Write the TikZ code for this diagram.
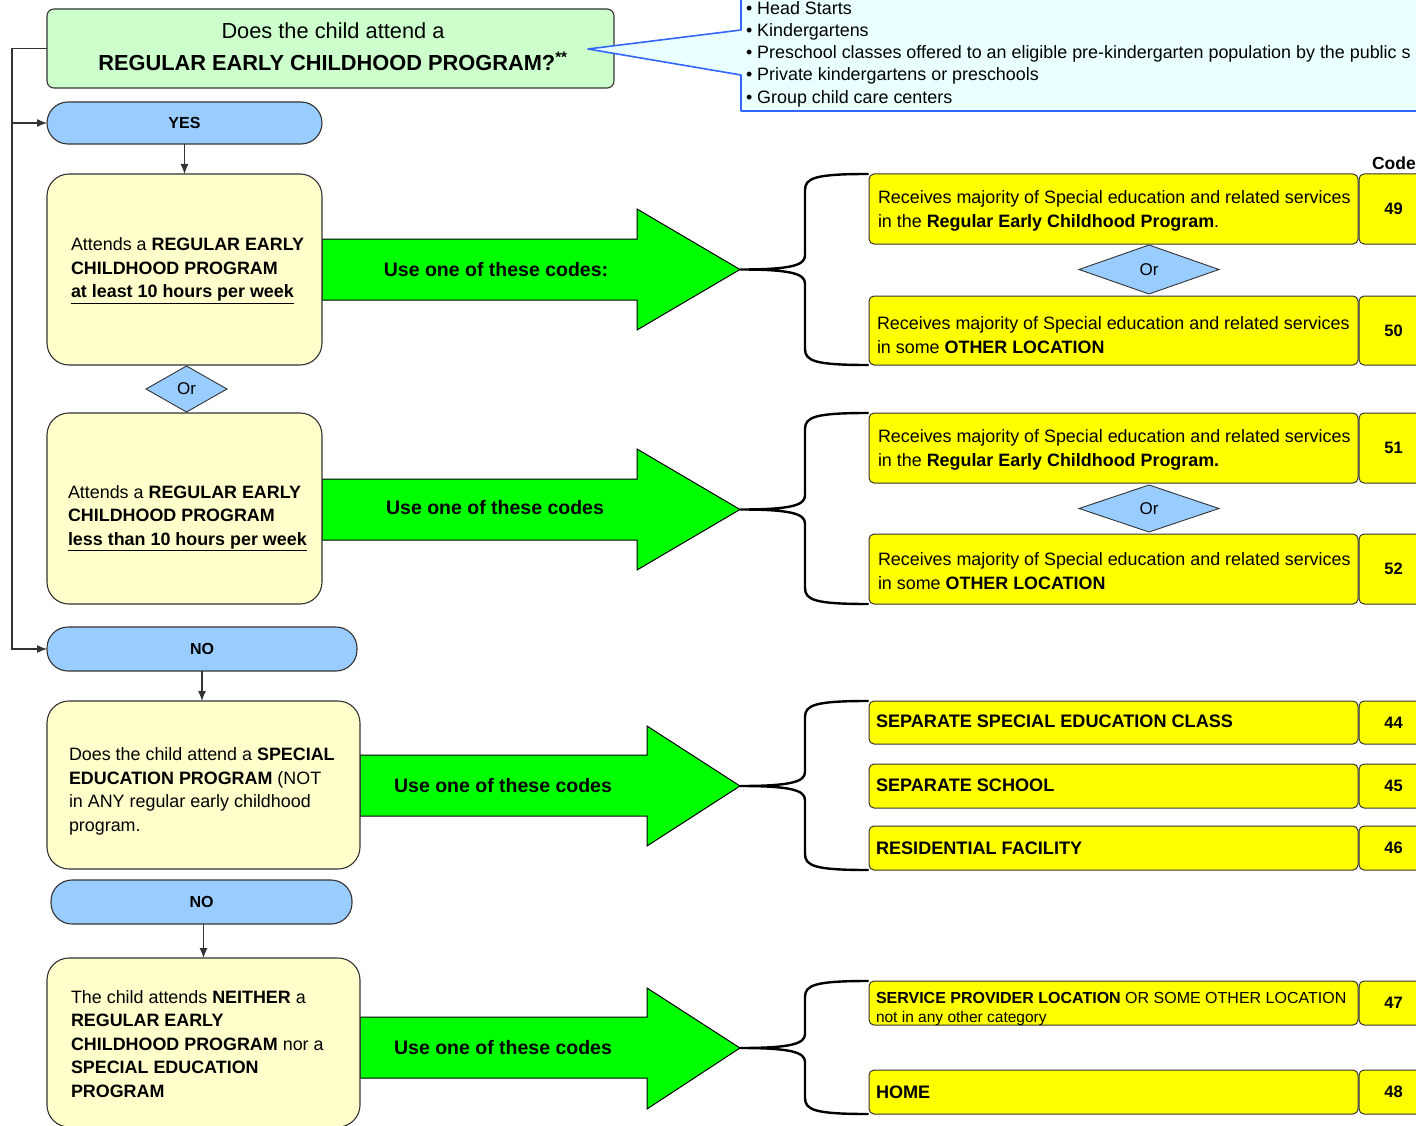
\documentclass[tikz,border=0pt]{standalone}
\usepackage{fontspec}
\setmainfont{Liberation Sans}
\usetikzlibrary{shapes.geometric,arrows.meta}
\definecolor{titlegreen}{HTML}{CCFFCC}
\definecolor{pillblue}{HTML}{99CCFF}
\definecolor{paleyellow}{HTML}{FFFFCC}
\definecolor{codeyellow}{HTML}{FFFF00}
\definecolor{arrowgreen}{HTML}{00FF00}
\definecolor{calloutfill}{HTML}{EAFFFF}
\definecolor{calloutblue}{HTML}{3366FF}
\definecolor{edgegray}{HTML}{333333}
\newcommand{\fsz}[2]{\fontsize{#1}{#2}\selectfont}
\newcommand{\drawbrace}[3]{%
  \draw[brace] (868,#1) .. controls (815,#1) and (805,#1+4) .. (805,#1+16)
    -- (805,#2-14) .. controls (805,#2-4) and (790,#2) .. (740,#2)
    .. controls (790,#2) and (805,#2+4) .. (805,#2+14)
    -- (805,#3-16) .. controls (805,#3-4) and (815,#3) .. (868,#3);}
\begin{document}
\begin{tikzpicture}[x=1pt,y=-1pt,
  every node/.style={inner sep=0pt, outer sep=0pt, text=black},
  titlebox/.style={draw=edgegray, line width=1.1pt, fill=titlegreen, rounded corners=7pt, font=\fsz{21.8}{32}, align=center},
  pill/.style={draw=edgegray, line width=1.1pt, fill=pillblue, rounded corners=21pt, font=\fsz{16}{20}\bfseries},
  qbox/.style={draw=edgegray, line width=1.1pt, fill=paleyellow, rounded corners=22pt},
  qtext/.style={anchor=west, align=left, font=\fsz{17.9}{23.5}},
  orbox/.style={diamond, draw=edgegray, line width=0.9pt, fill=pillblue, font=\fsz{17}{20}, aspect=2.8},
  rowbox/.style={draw=edgegray, line width=1pt, fill=codeyellow, rounded corners=5pt},
  rowtext/.style={anchor=west, align=left, font=\fsz{17.9}{23.5}},
  codetext/.style={font=\fsz{16.5}{20}\bfseries},
  bigarrow/.style={draw=black, line width=1pt, fill=arrowgreen, line join=miter},
  arrowtext/.style={font=\fsz{19.5}{24}\bfseries},
  brace/.style={draw=black, line width=2.4pt, line cap=round},
  conn/.style={draw=edgegray, line width=1.2pt, -{Latex[length=10pt,width=8pt]}},
]
\useasboundingbox (0,0) rectangle (1416,1126);

% ---- green block arrows (drawn first, boxes sit on their left ends)
\coordinate (tip1) at (740,269.5);
\coordinate (tip2) at (740,509.5);
\coordinate (tip3) at (740,786);
\coordinate (tip4) at (740,1048);
\draw[bigarrow] (322,239) -- (637,239) -- (637,209) -- (tip1) -- (637,330) -- (637,300) -- (322,300) -- cycle;
\draw[bigarrow] (322,479) -- (637,479) -- (637,449) -- (tip2) -- (637,570) -- (637,540) -- (322,540) -- cycle;
\draw[bigarrow] (360,755) -- (647,755) -- (647,726) -- (tip3) -- (647,846) -- (647,816) -- (360,816) -- cycle;
\draw[bigarrow] (360,1017) -- (647,1017) -- (647,988) -- (tip4) -- (647,1109) -- (647,1078) -- (360,1078) -- cycle;
\node[arrowtext] (a1t) at (496,270) {Use one of these codes:};
\node[arrowtext] (a2t) at (495,508) {Use one of these codes};
\node[arrowtext] (a3t) at (503,786) {Use one of these codes};
\node[arrowtext] (a4t) at (503,1048) {Use one of these codes};

% ---- braces
\drawbrace{174}{269.5}{365}
\drawbrace{413}{509.5}{604}
\drawbrace{701}{786}{870}
\drawbrace{981}{1048}{1114}

% ---- title question
\node[titlebox, minimum width=567, minimum height=79] (title) at (330.5,48.5) {};
\node[font=\fsz{21.8}{32}, align=center] (titlet) at (333,46.5)
  {Does the child attend a\\ \textbf{REGULAR EARLY CHILDHOOD PROGRAM?\textsuperscript{**}}};

% ---- callout
\path[draw=calloutblue, line width=1.6pt, fill=calloutfill, line join=round]
  (741,30) -- (588,49) -- (741,75) -- (741,111) -- (1440,111) -- (1440,-20) -- (741,-20) -- cycle;
\node[anchor=west, align=left, font=\fsz{17.9}{22.25}] (bul) at (746,54)
  {• Head Starts\\ • Kindergartens\\ • Preschool classes offered to an eligible pre-kindergarten population by the public s\\ • Private kindergartens or preschools\\ • Group child care centers};

% ---- left column
\node[pill, minimum width=275, minimum height=42] (yes) at (184.5,123) {YES};
\node[pill, minimum width=310, minimum height=44] (no1) at (202,649) {NO};
\node[pill, minimum width=301, minimum height=44] (no2) at (201.5,902) {NO};

\node[qbox, minimum width=275, minimum height=191] (q1) at (184.5,269.5) {};
\node[qbox, minimum width=275, minimum height=191] (q2) at (184.5,508.5) {};
\node[qbox, minimum width=313, minimum height=168] (q3) at (203.5,785) {};
\node[qbox, minimum width=313, minimum height=169] (q4) at (203.5,1042.5) {};

\node[orbox, minimum width=81, minimum height=46] (or0) at (186.5,389) {Or};

\node[qtext] (q1t) at (71,270.5) {Attends a \textbf{REGULAR EARLY}\\ \textbf{CHILDHOOD PROGRAM}\\ \underline{\textbf{at least 10 hours per week}}};
\node[qtext] (q2t) at (68,518) {Attends a \textbf{REGULAR EARLY}\\ \textbf{CHILDHOOD PROGRAM}\\ \underline{\textbf{less than 10 hours per week}}};
\node[qtext] (q3t) at (69,791.5) {Does the child attend a \textbf{SPECIAL}\\ \textbf{EDUCATION PROGRAM} (NOT\\ in ANY regular early childhood\\ program.};
\node[qtext] (q4t) at (71,1044) {The child attends \textbf{NEITHER} a\\ \textbf{REGULAR EARLY}\\ \textbf{CHILDHOOD PROGRAM} nor a\\ \textbf{SPECIAL EDUCATION}\\ \textbf{PROGRAM}};

% ---- connectors
\coordinate (lj) at (12,123);
\draw[conn] (title.west) -- ++(-35,0) |- (no1.west);
\draw[conn] (lj) -- (yes.west);
\draw[conn] (yes.south) -- (q1.north);
\draw[conn] (no1.south) -- (no1.south |- q3.north);
\draw[conn] (q4.north |- no2.south) -- (q4.north);

% ---- code rows
\node[anchor=west, font=\fsz{17.5}{20}\bfseries] (codehdr) at (1372,163) {Code};

\node[rowbox, minimum width=489, minimum height=70] (r49) at (1113.5,209) {};
\node[rowbox, minimum width=69, minimum height=70, codetext] (c49) at (1393.5,209) {49};
\node[orbox, minimum width=140, minimum height=49] (or1) at (1149,269.5) {Or};
\node[rowbox, minimum width=489, minimum height=69] (r50) at (1113.5,330.5) {};
\node[rowbox, minimum width=69, minimum height=69, codetext] (c50) at (1393.5,330.5) {50};

\node[rowbox, minimum width=489, minimum height=70] (r51) at (1113.5,448) {};
\node[rowbox, minimum width=69, minimum height=70, codetext] (c51) at (1393.5,448) {51};
\node[orbox, minimum width=140, minimum height=47] (or2) at (1149,508.5) {Or};
\node[rowbox, minimum width=489, minimum height=70] (r52) at (1113.5,569) {};
\node[rowbox, minimum width=69, minimum height=70, codetext] (c52) at (1393.5,569) {52};

\node[rowbox, minimum width=489, minimum height=43] (r44) at (1113.5,722.5) {};
\node[rowbox, minimum width=69, minimum height=43, codetext] (c44) at (1393.5,722.5) {44};
\node[rowbox, minimum width=489, minimum height=44] (r45) at (1113.5,786) {};
\node[rowbox, minimum width=69, minimum height=44, codetext] (c45) at (1393.5,786) {45};
\node[rowbox, minimum width=489, minimum height=44] (r46) at (1113.5,848) {};
\node[rowbox, minimum width=69, minimum height=44, codetext] (c46) at (1393.5,848) {46};

\node[rowbox, minimum width=489, minimum height=44] (r47) at (1113.5,1003) {};
\node[rowbox, minimum width=69, minimum height=44, codetext] (c47) at (1393.5,1003) {47};
\node[rowbox, minimum width=489, minimum height=44] (r48) at (1113.5,1092) {};
\node[rowbox, minimum width=69, minimum height=44, codetext] (c48) at (1393.5,1092) {48};

\node[rowtext] (r49t) at (878,211) {Receives majority of Special education and related services\\ in the \textbf{Regular Early Childhood Program}.};
\node[rowtext] (r50t) at (877,335) {Receives majority of Special education and related services\\ in some \textbf{OTHER LOCATION}};
\node[rowtext] (r51t) at (878,450) {Receives majority of Special education and related services\\ in the \textbf{Regular Early Childhood Program.}};
\node[rowtext] (r52t) at (878,571) {Receives majority of Special education and related services\\ in some \textbf{OTHER LOCATION}};
\node[rowtext, font=\fsz{18.1}{20}\bfseries] (r44t) at (876,721) {SEPARATE SPECIAL EDUCATION CLASS};
\node[rowtext, font=\fsz{18.1}{20}\bfseries] (r45t) at (876,785) {SEPARATE SCHOOL};
\node[rowtext, font=\fsz{18.1}{20}\bfseries] (r46t) at (876,848) {RESIDENTIAL FACILITY};
\node[rowtext, font=\fsz{16}{20}] (r47t) at (876,998) {\textbf{SERVICE PROVIDER LOCATION} OR SOME OTHER LOCATION};
\node[rowtext, font=\fsz{15.5}{18}] (r47s) at (876,1018.5) {not in any other category};
\node[rowtext, font=\fsz{18.1}{20}\bfseries] (r48t) at (876,1092) {HOME};
\end{tikzpicture}
\end{document}
